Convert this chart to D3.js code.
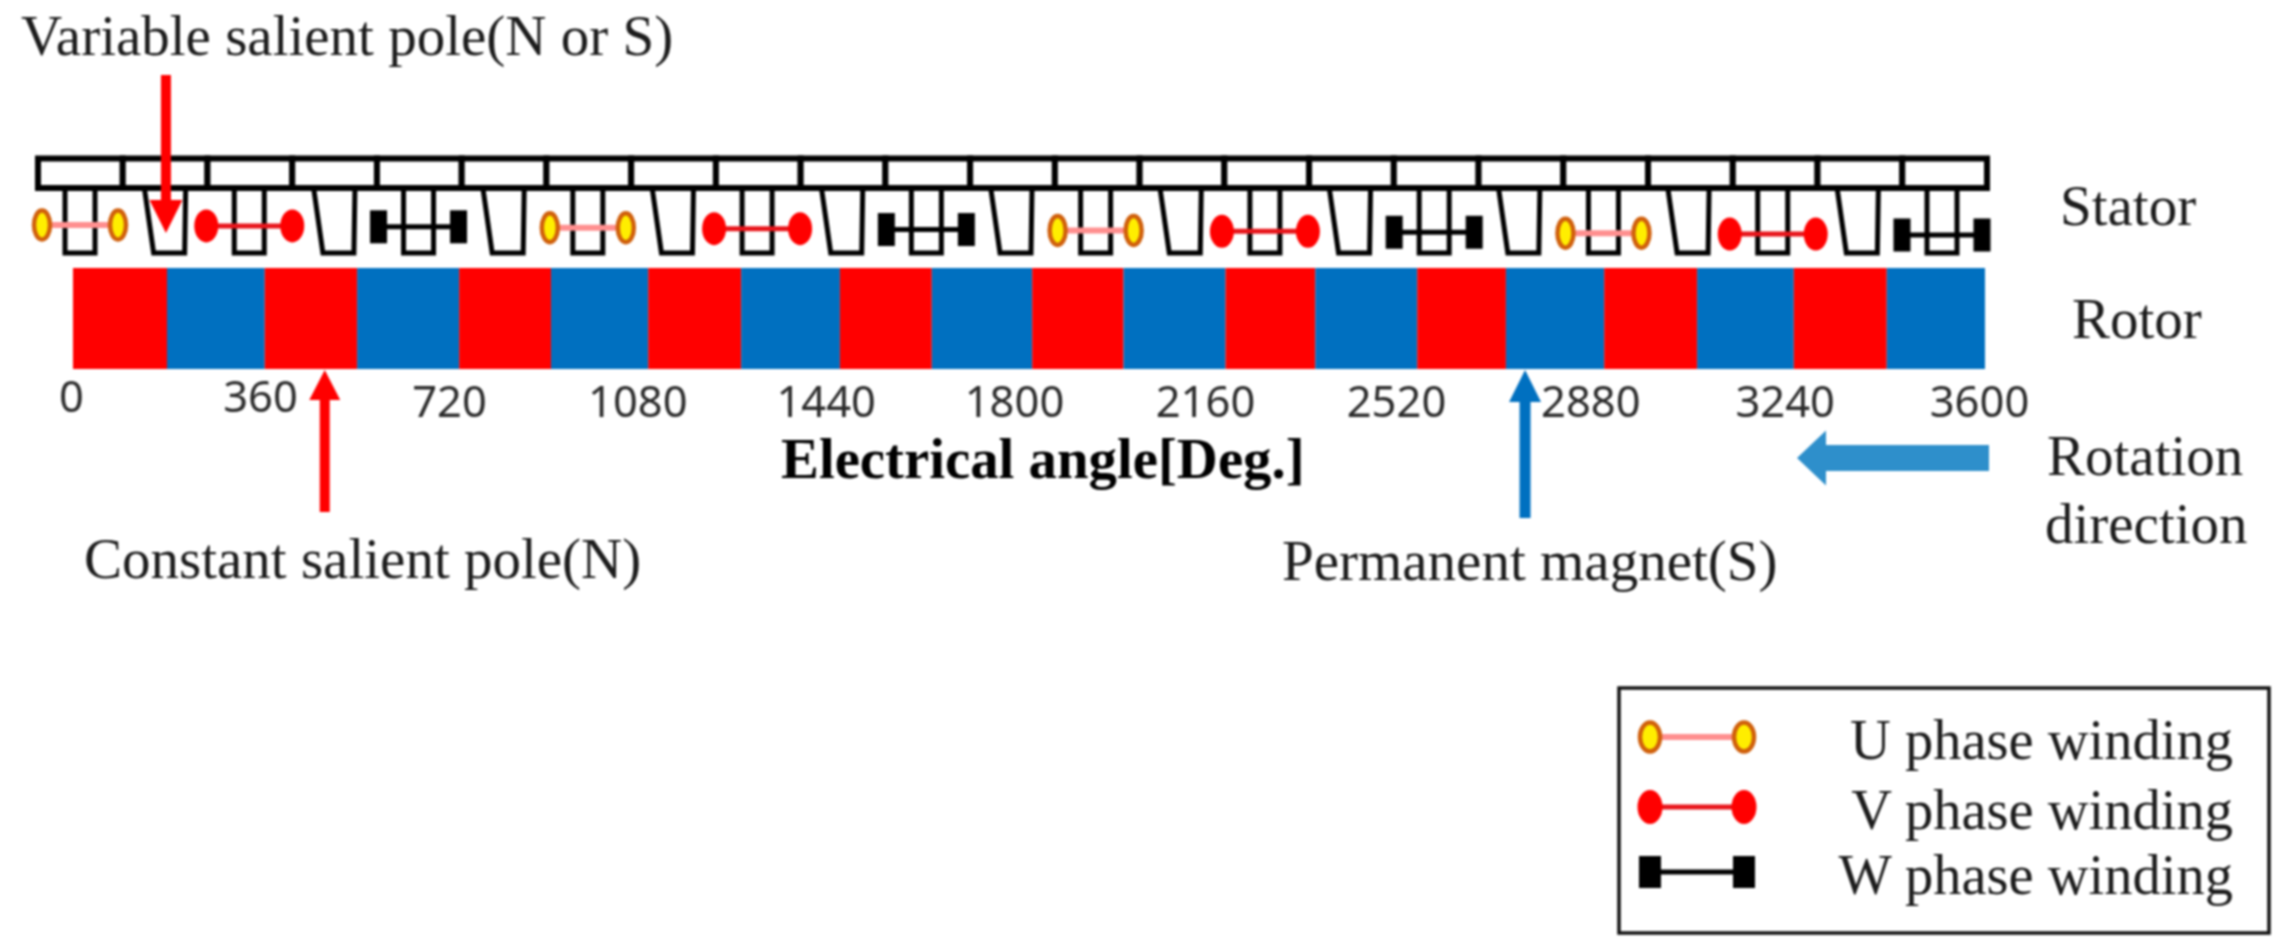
<!DOCTYPE html>
<html>
<head>
<meta charset="utf-8">
<style>
    html, body { margin: 0; padding: 0; background: #fff; }
    svg { display: block; filter: blur(0.9px); }
    text { font-family: "Liberation Serif", serif; fill: #1c1c1c; }
</style>
</head>
<body>
<div id="chart"></div>
<script src="https://cdn.jsdelivr.net/npm/d3@7"></script>
<script>
'use strict';

// rotor pole edges in electrical degrees (not quite even)
const poleEdges = [0, 177, 361, 535, 727, 900, 1083, 1258, 1444, 1617, 1806, 1978,
    2170, 2339, 2531, 2698, 2883, 3058, 3240, 3415, 3600];
const poleColors = ['#ff0000', '#0070c0'];

const tickAngles = [0, 360, 720, 1080, 1440, 1800, 2160, 2520, 2880, 3240, 3600];

const statorCells = d3.range(23);
const toothKinds = ['U', 'T', 'U', 'T', 'U', 'T', 'U', 'T', 'U', 'T', 'U', 'T',
    'U', 'T', 'U', 'T', 'U', 'T', 'U', 'T', 'U', 'T', 'U'];

// winding phase carried by each straight tooth, left to right
const windingPhases = ['U', 'V', 'W', 'U', 'V', 'W', 'U', 'V', 'W', 'U', 'V', 'W'];

const legendPhases = ['U', 'V', 'W'];
const legendLabels = ['U phase winding', 'V phase winding', 'W phase winding'];

// arrows on the rotor scale, in degrees
const variablePoleAngle = 175;
const constantPoleAngle = 474;
const magnetAngle = 2734;

const width = 2287;
const height = 951;

const svg = d3.select('#chart')
    .append('svg')
        .attr('width', width)
        .attr('height', height)
        .attr('viewBox', `0 0 ${width} ${height}`);

const x = d3.scaleLinear().domain([0, 3600]).range([73, 1985]);

// the tick labels were placed by hand in the original and drift off the rotor
const tickX = d3.scaleLinear()
    .domain([0, 720, 1800, 2520, 3600])
    .range([71, 449, 1014, 1396, 1979]);

const cellX = d3.scaleLinear().domain([0, 23]).range([38, 1987]);
const toothX = d3.scaleLinear().domain([0, 22]).range([80, 1942]);
const windingY = d3.scaleLinear().domain([0, 22]).range([225, 235]);

const toothShape = {
    U: [[-15, 190], [-15, 253], [15, 253], [15, 190]],
    T: [[-20, 190], [-11, 253], [20, 253], [21, 190]]
};
const toothLine = d3.line();

function drawWinding(g, phase, halfSpan, r) {
    g.append('line')
        .attr('x1', -halfSpan)
        .attr('x2', halfSpan)
        .attr('stroke', phase === 'W' ? '#000' : phase === 'V' ? '#e8151b' : '#ff8f8f')
        .attr('stroke-width', phase === 'U' ? 6 : 5);

    [-halfSpan, halfSpan].forEach(cx => {
        if (phase === 'W') {
            g.append('rect')
                .attr('x', cx - r.w / 2)
                .attr('y', -r.h / 2)
                .attr('width', r.w)
                .attr('height', r.h)
                .attr('fill', '#000');
        } else if (phase === 'V') {
            g.append('ellipse')
                .attr('cx', cx)
                .attr('rx', r.vx)
                .attr('ry', r.vy)
                .attr('fill', '#ff0000');
        } else {
            g.append('ellipse')
                .attr('cx', cx)
                .attr('rx', r.ux)
                .attr('ry', r.uy)
                .attr('fill', '#ffee00')
                .attr('stroke', '#d0600c')
                .attr('stroke-width', 4.5);
        }
    });
}

function arrowPath(len, headLen, headW, shaftW) {
    // tip at 0,0 pointing along +x, tail at -len
    return `M0,0L${-headLen},${-headW / 2}L${-headLen},${-shaftW / 2}L${-len},${-shaftW / 2}` +
        `L${-len},${shaftW / 2}L${-headLen},${shaftW / 2}L${-headLen},${headW / 2}Z`;
}

// --- rotor
svg.append('g')
    .selectAll('rect')
    .data(d3.pairs(poleEdges))
    .enter()
    .append('rect')
        .attr('x', d => x(d[0]))
        .attr('width', d => x(d[1]) - x(d[0]))
        .attr('y', 268)
        .attr('height', 101)
        .attr('fill', (d, i) => poleColors[i % 2]);

// --- stator
const stator = svg.append('g');

stator.selectAll('.tooth')
    .data(toothKinds)
    .enter()
    .append('path')
        .attr('class', 'tooth')
        .attr('d', d => toothLine(toothShape[d]))
        .attr('transform', (d, i) => `translate(${toothX(i)},0)`)
        .attr('fill', 'none')
        .attr('stroke', '#000')
        .attr('stroke-width', 5);

stator.selectAll('.cell')
    .data(statorCells)
    .enter()
    .append('rect')
        .attr('class', 'cell')
        .attr('x', d => cellX(d))
        .attr('width', d => cellX(d + 1) - cellX(d))
        .attr('y', 158.5)
        .attr('height', 29.5)
        .attr('fill', '#fff')
        .attr('stroke', '#000')
        .attr('stroke-width', 6);

// --- windings, one on every second tooth
svg.append('g')
    .selectAll('g')
    .data(windingPhases)
    .enter()
    .append('g')
        .attr('transform', (d, i) => `translate(${toothX(i * 2)},${windingY(i * 2)})`)
        .each(function (d) {
            const halfSpan = d === 'V' ? 43 : d === 'U' ? 38 : 40;
            drawWinding(d3.select(this), d, halfSpan, { ux: 8, uy: 14.5, vx: 12, vy: 16.5, w: 17, h: 33 });
        });

// --- tick labels
const xAxis = svg.append('g')
    .attr('transform', 'translate(0,417)')
    .call(d3.axisBottom(tickX).tickValues(tickAngles).tickSize(0).tickFormat(d3.format('d')));

xAxis.select('.domain').remove();
xAxis.selectAll('text')
    .attr('y', d => d < 720 ? -5 : 0)
    .attr('dy', 0)
    .style('fill', '#2b2b2b')
    .style('font-family', '"Noto Sans", sans-serif')
    .style('font-size', '43.5px');

svg.append('text')
    .attr('x', 781)
    .attr('y', 478)
    .attr('font-size', 56.8)
    .attr('font-weight', 'bold')
    .style('fill', '#000')
    .text('Electrical angle[Deg.]');

// --- annotations
[
    { text: 'Variable salient pole(N or S)', x: 21, y: 55 },
    { text: 'Constant salient pole(N)', x: 84, y: 578 },
    { text: 'Permanent magnet(S)', x: 1282, y: 580 },
    { text: 'Stator', x: 2060, y: 225 },
    { text: 'Rotor', x: 2072, y: 338 },
    { text: 'Rotation', x: 2047, y: 475 },
    { text: 'direction', x: 2045, y: 543 }
].forEach(d => {
    svg.append('text')
        .attr('x', d.x)
        .attr('y', d.y)
        .attr('font-size', 57)
        .text(d.text);
});

svg.append('path')
    .attr('d', arrowPath(158, 33, 33, 10))
    .attr('transform', `translate(${x(variablePoleAngle)},233) rotate(90)`)
    .attr('fill', '#ff0000');

svg.append('path')
    .attr('d', arrowPath(142, 30, 31, 10))
    .attr('transform', `translate(${x(constantPoleAngle)},370) rotate(-90)`)
    .attr('fill', '#ff0000');

svg.append('path')
    .attr('d', arrowPath(148, 32, 32, 11))
    .attr('transform', `translate(${x(magnetAngle)},370) rotate(-90)`)
    .attr('fill', '#0070c0');

svg.append('path')
    .attr('d', arrowPath(192, 29, 55, 26))
    .attr('transform', 'translate(1797,458) rotate(180)')
    .attr('fill', '#2e8fcb');

// --- legend
const legend = svg.append('g');

legend.append('rect')
    .attr('x', 1619)
    .attr('y', 688)
    .attr('width', 650)
    .attr('height', 245)
    .attr('fill', '#fff')
    .attr('stroke', '#111')
    .attr('stroke-width', 3.5);

const legendY = d3.scaleOrdinal().domain(legendPhases).range([737, 807, 872]);

const legendItem = legend.selectAll('.item')
    .data(legendPhases)
    .enter()
    .append('g')
        .attr('class', 'item')
        .attr('transform', d => `translate(1697,${legendY(d)})`);

legendItem.each(function (d) {
    drawWinding(d3.select(this), d, 47, { ux: 10, uy: 14.5, vx: 12.5, vy: 17, w: 22, h: 32 });
});

legendItem.append('text')
    .attr('x', 536)
    .attr('y', 22)
    .attr('text-anchor', 'end')
    .attr('font-size', 56.5)
    .text((d, i) => legendLabels[i]);
</script>
</body>
</html>
